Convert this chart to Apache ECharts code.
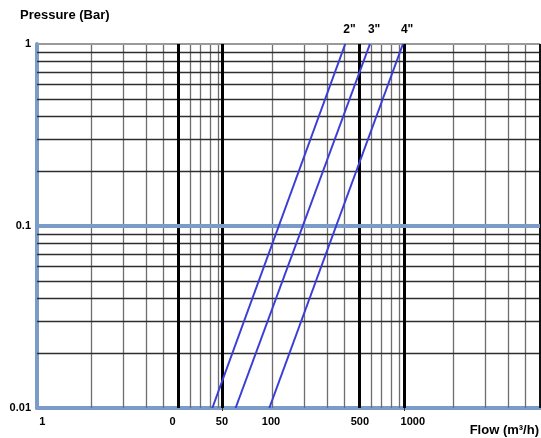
<!DOCTYPE html>
<html>
<head>
<meta charset="utf-8">
<script src="https://cdn.jsdelivr.net/npm/echarts@6/dist/echarts.min.js"></script>
<style>
  html, body { margin: 0; padding: 0; background: #fff; }
  #main { width: 541px; height: 438px; }
</style>
</head>
<body>
<div id="main"></div>
<script>
// flow axis positions of the tick labels and their texts
const xTickValues = [1.07, 5.6, 10.5, 19.6, 60.7, 119];
const xTickLabels = ['1', '0', '50', '100', '500', '1000'];
const yTickValues = [0.01, 0.1, 1];
const yTickLabels = ['0.01', '0.1', '1'];

// light log grid
const xGridValues = [2, 3, 4, 5, 6, 7, 8, 9, 10, 20, 30, 40, 50, 60, 70, 80, 90, 100, 200, 300, 400, 500];
const yGridValues = [0.02, 0.03, 0.04, 0.05, 0.06, 0.07, 0.08, 0.09, 0.2, 0.3, 0.4, 0.5, 0.6, 0.7, 0.8, 0.9];
// heavy vertical lines
const xBoldValues = [6, 10.5, 60, 107];

// pipe size curves: [flow, pressure]
const sizeNames = ['2"', '3"', '4"'];
const curve2 = [[9.3, 0.01], [50.4, 1]];
const curve3 = [[12.5, 0.01], [69, 1]];
const curve4 = [[19.2, 0.01], [105, 1]];

const FONT = "'Liberation Sans', Arial, sans-serif";
const BLUE_AXIS = '#7b9bc8';
const CURVE = '#3c3cd6';

function labelFor(values, labels) {
    return function (v) {
        let best = 0;
        for (let i = 1; i < values.length; i++) {
            if (Math.abs(values[i] - v) < Math.abs(values[best] - v)) best = i;
        }
        return labels[best];
    };
}

function curveSeries(name, data) {
    return {
        name: name,
        type: 'line',
        data: data,
        symbol: 'none',
        z: 4,
        lineStyle: { color: CURVE, width: 2 },
        endLabel: {
            show: true,
            formatter: name,
            distance: 0,
            offset: [-2, -14],
            color: '#000',
            fontFamily: FONT,
            fontWeight: 'bold',
            fontSize: 12
        },
        animation: false
    };
}

function gridLine(axis, v, color, width) {
    let item = { lineStyle: { color: color, width: width, type: 'solid' } };
    item[axis] = v;
    return item;
}

var gridLines = [];
xGridValues.forEach(v => gridLines.push(gridLine('xAxis', v, '#6e6e6e', 1.3)));
yGridValues.forEach(v => gridLines.push(gridLine('yAxis', v, '#2e2e2e', 1.3)));
gridLines.push(gridLine('yAxis', 1, '#9a9a9a', 2));
xBoldValues.forEach(v => gridLines.push(gridLine('xAxis', v, '#000', 3)));
gridLines.push(gridLine('xAxis', 600, '#111', 2));
gridLines.push(gridLine('yAxis', 0.1, BLUE_AXIS, 4));

var myChart = echarts.init(document.getElementById('main'), null, { renderer: 'canvas' });

var option = {
    backgroundColor: '#fff',
    animation: false,
    title: [
        {
            text: 'Pressure (Bar)',
            left: 20,
            top: 9,
            padding: 0,
            textStyle: { fontFamily: FONT, fontWeight: 'bold', fontSize: 13, color: '#000' }
        },
        {
            text: 'Flow (m³/h)',
            right: 2,
            top: 424,
            padding: 0,
            textStyle: { fontFamily: FONT, fontWeight: 'bold', fontSize: 13, color: '#000' }
        }
    ],
    grid: { left: 37, right: 1, top: 44, bottom: 30 },
    xAxis: {
        type: 'log',
        min: 1,
        max: 600,
        logBase: 10,
        axisLine: { show: true, lineStyle: { color: BLUE_AXIS, width: 4 } },
        axisTick: { show: true, customValues: [10.5, 107], length: 3, lineStyle: { color: '#333', width: 1 } },
        splitLine: { show: false },
        minorSplitLine: { show: false },
        axisLabel: {
            customValues: xTickValues,
            formatter: labelFor(xTickValues, xTickLabels),
            margin: 8,
            color: '#000',
            fontFamily: FONT,
            fontWeight: 'bold',
            fontSize: 11
        }
    },
    yAxis: {
        type: 'log',
        min: 0.01,
        max: 1,
        logBase: 10,
        axisLine: { show: true, lineStyle: { color: BLUE_AXIS, width: 4 } },
        axisTick: { show: false },
        splitLine: { show: false },
        axisLabel: {
            customValues: yTickValues,
            formatter: labelFor(yTickValues, yTickLabels),
            margin: 6,
            padding: [3, 0, 0, 0],
            color: '#000',
            fontFamily: FONT,
            fontWeight: 'bold',
            fontSize: 11
        }
    },
    series: [
        {
            name: 'grid',
            type: 'line',
            data: [],
            z: 1,
            markLine: {
                silent: true,
                z: 1,
                symbol: ['none', 'none'],
                label: { show: false },
                animation: false,
                data: gridLines
            }
        },
        curveSeries(sizeNames[0], curve2),
        curveSeries(sizeNames[1], curve3),
        curveSeries(sizeNames[2], curve4)
    ]
};

myChart.setOption(option);
</script>
</body>
</html>
